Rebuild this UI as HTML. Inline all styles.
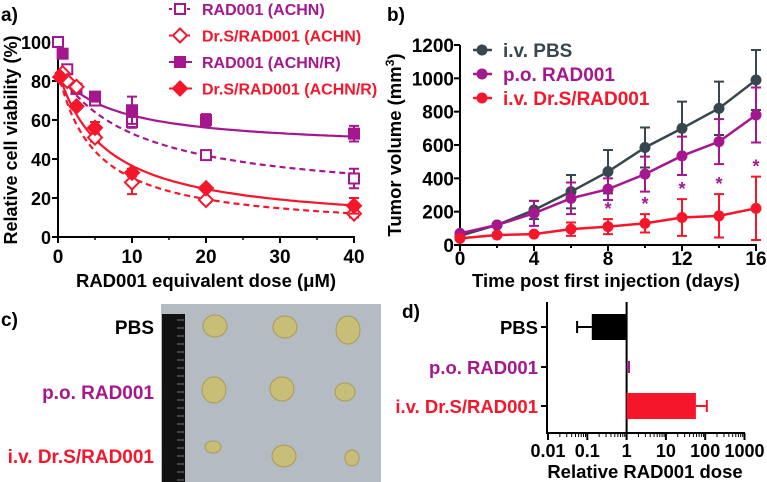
<!DOCTYPE html>
<html><head><meta charset="utf-8"><style>
html,body{margin:0;padding:0;background:#fff}
svg{display:block;font-family:"Liberation Sans",Arial,sans-serif;font-weight:bold}
</style></head><body>
<svg id="fig" width="767" height="482" viewBox="0 0 767 482">
<g id="pa"></g>
<g id="pb"></g>
<g id="pc"></g>
<g id="pd"></g>
</svg>
<script>
// ---------- Panel a data ----------
const aTicksX=[0,10,20,30,40];
const aTicksY=[0,20,40,60,80,100];
const aDoseOpenSq=[0,1.25,2.5,5,10,20,40];
const aValOpenSq=[100,86,76,70,59,42,30];
const aErrOpenSq=[0,2,2,2,3,2,5];
const aDoseFilledSq=[0.625,2.5,5,10,20,40];
const aValFilledSq=[94,76,72,65,60,53];
const aErrFilledSq=[2,2,2,7,3,4];
const aDoseOpenDi=[0.625,1.25,2.5,5,10,20,40];
const aValOpenDi=[84,80,77,51,28,19,12];
const aErrOpenDi=[1,1,1,2,6,1,2];
const aDoseFilledDi=[0.3,2.5,5,10,20,40];
const aValFilledDi=[82,67,56,33,25,16];
const aErrFilledDi=[1,1,3,2,1,4];
// fit params [top,bottom,ic50]
const aFitOpenSq=[85,18,11];
const aFitFilledSq=[84,45,8];
const aFitOpenDi=[85,3,5];
const aFitFilledDi=[85,5,6.5];
// ---------- Panel b data ----------
const bDays=[0,2,4,6,8,10,12,14,16];
const bTicksX=[0,4,8,12,16];
const bTicksY=[0,200,400,600,800,1000,1200];
const bPBS=[55,120,210,320,440,585,700,820,990];
const bPBSerr=[0,0,55,100,130,120,160,160,180];
const bPO=[70,120,190,280,335,425,535,620,780];
const bPOerr=[0,0,75,95,65,105,115,135,165];
const bDrS=[40,60,65,95,110,130,165,175,220];
const bDrSerr=[0,0,0,40,45,55,110,130,190];
const bStarDays=[8,10,12,14,16];
// ---------- Panel d data ----------
const dCats=["PBS","p.o. RAD001","i.v. Dr.S/RAD001"];
const dVals=[0.13,1.0,58];
const dErrLow=[0.055,1.0,58];
const dErrHigh=[0.13,1.15,110];
const dTicks=[0.01,0.1,1,10,100,1000];
const dTickLabels=["0.01","0.1","1","10","100","1000"];

const NS="http://www.w3.org/2000/svg";
function mk(parent,tag,attrs,text){const e=document.createElementNS(NS,tag);for(const k in attrs)e.setAttribute(k,attrs[k]);if(text!==undefined)e.textContent=text;parent.appendChild(e);return e;}
const PUR="#a6168f",RED="#f5162b",GRY="#37474f";
const TF=19, AT=18.5;

// ===== Panel a =====
(function(){
const g=document.getElementById('pa');
const X=v=>58+v*7.4, Y=v=>237-v*1.95;
let t=mk(g,'text',{x:1,y:21,'font-size':19},'a)');

let l=mk(g,'line',{x1:58,y1:Y(0),x2:58,y2:Y(100),stroke:'#000','stroke-width':2});

l=mk(g,'line',{x1:57,y1:237,x2:X(40)+1,y2:237,stroke:'#000','stroke-width':2});

aTicksY.forEach(v=>{let k=mk(g,'line',{x1:52,y1:Y(v),x2:58,y2:Y(v),stroke:'#000','stroke-width':2});

let s=mk(g,'text',{x:51,y:Y(v)+7,'font-size':18,'text-anchor':'end'},String(v));
});
for(let v=5;v<40;v+=10){let k=mk(g,'line',{x1:X(v),y1:237,x2:X(v),y2:240,stroke:'#000','stroke-width':1.5});}
aTicksX.forEach(v=>{let k=mk(g,'line',{x1:X(v),y1:237,x2:X(v),y2:243,stroke:'#000','stroke-width':2});

let s=mk(g,'text',{x:X(v),y:263,'font-size':TF,'text-anchor':'middle'},String(v));
});
t=mk(g,'text',{x:206,y:287,'font-size':AT,'text-anchor':'middle'},'RAD001 equivalent dose (\u03bcM)');

t=mk(g,'text',{x:0,y:0,'font-size':18,'text-anchor':'middle',transform:'translate(17,140) rotate(-90)'},'Relative cell viability (%)');

function fit(p,color,dash,name){let d='';for(let i=0;i<=80;i++){const x=i*0.5;const y=p[1]+(p[0]-p[1])/(1+x/p[2]);d+=(i?'L':'M')+X(x).toFixed(1)+','+Y(y).toFixed(1);}
const e=mk(g,'path',{d:d,fill:'none',stroke:color,'stroke-width':2.2,'stroke-dasharray':dash});
}
fit(aFitOpenSq,PUR,'6,4','fit-rad001-achn');
fit(aFitFilledSq,PUR,'','fit-rad001-achn-r');
fit(aFitOpenDi,RED,'6,4','fit-drs-achn');
fit(aFitFilledDi,RED,'','fit-drs-achn-r');
function marker(cx,cy,shape,filled,color){
 if(shape==='sq') return mk(g,'rect',{x:cx-5,y:cy-5,width:10,height:10,fill:filled?color:'#fff',stroke:color,'stroke-width':2});
 return mk(g,'path',{d:`M${cx},${cy-7}L${cx+7},${cy}L${cx},${cy+7}L${cx-7},${cy}Z`,fill:filled?color:'#fff',stroke:color,'stroke-width':2});}
function series(xs,ys,es,shape,filled,color,name){xs.forEach((x,i)=>{const cx=X(x),cy=Y(ys[i]);
 if(es[i]>0){const eb=mk(g,'path',{d:`M${cx},${Y(ys[i]-es[i])}L${cx},${Y(ys[i]+es[i])}M${cx-5},${Y(ys[i]-es[i])}L${cx+5},${Y(ys[i]-es[i])}M${cx-5},${Y(ys[i]+es[i])}L${cx+5},${Y(ys[i]+es[i])}`,stroke:color,'stroke-width':2,fill:'none'});
 }
 const m=marker(cx,cy,shape,filled,color);
 });}
series(aDoseOpenSq,aValOpenSq,aErrOpenSq,'sq',false,PUR,'rad001-achn');
series(aDoseFilledSq,aValFilledSq,aErrFilledSq,'sq',true,PUR,'rad001-achn-r');
series(aDoseOpenDi,aValOpenDi,aErrOpenDi,'di',false,RED,'drs-achn');
series(aDoseFilledDi,aValFilledDi,aErrFilledDi,'di',true,RED,'drs-achn-r');
const leg=[["RAD001 (ACHN)",'sq',false,PUR,'6,4'],["Dr.S/RAD001 (ACHN)",'di',false,RED,'6,4'],["RAD001 (ACHN/R)",'sq',true,PUR,''],["Dr.S/RAD001 (ACHN/R)",'di',true,RED,'']];
leg.forEach((r,i)=>{const y=9+i*26.5;
 let ln=mk(g,'line',{x1:169,y1:y,x2:192,y2:y,stroke:r[3],'stroke-width':2,'stroke-dasharray':r[4]?'3,3':''});
 
 let m=marker(180,y,r[1],r[2],r[3]);
 let s=mk(g,'text',{x:202,y:y+6,'font-size':16,fill:r[3]},r[0]);
 });
})();

// ===== Panel b =====
(function(){
const g=document.getElementById('pb');
const X=v=>460+v*18.5, Y=v=>245-v/6;
let t=mk(g,'text',{x:387,y:21,'font-size':19},'b)');

let l=mk(g,'line',{x1:460,y1:245,x2:460,y2:Y(1200),stroke:'#000','stroke-width':2});

l=mk(g,'line',{x1:459,y1:245,x2:X(16)+1,y2:245,stroke:'#000','stroke-width':2});

bTicksY.forEach(v=>{let k=mk(g,'line',{x1:454,y1:Y(v),x2:460,y2:Y(v),stroke:'#000','stroke-width':2});

let s=mk(g,'text',{x:454,y:Y(v)+7,'font-size':TF,'text-anchor':'end'},String(v));
});
bDays.forEach(v=>{const big=bTicksX.includes(v);let k=mk(g,'line',{x1:X(v),y1:245,x2:X(v),y2:big?251:248,stroke:'#000','stroke-width':2});
});
bTicksX.forEach(v=>{let s=mk(g,'text',{x:X(v),y:265,'font-size':TF,'text-anchor':'middle'},String(v));
});
t=mk(g,'text',{x:606,y:287,'font-size':AT,'text-anchor':'middle'},'Time post first injection (days)');

t=mk(g,'text',{x:0,y:0,'font-size':AT,'text-anchor':'middle',transform:'translate(401,145) rotate(-90)'});

t.innerHTML='Tumor volume (mm<tspan dy="-7" font-size="12">3</tspan><tspan dy="7">)</tspan>';
function series(vals,errs,color,name){
 vals.forEach((v,i)=>{if(errs[i]>0){const cx=X(bDays[i]);const e=mk(g,'path',{d:`M${cx},${Y(v-errs[i])}L${cx},${Y(v+errs[i])}M${cx-5},${Y(v-errs[i])}L${cx+5},${Y(v-errs[i])}M${cx-5},${Y(v+errs[i])}L${cx+5},${Y(v+errs[i])}`,stroke:color,'stroke-width':2,fill:'none'});
 }});
 const p=mk(g,'polyline',{points:vals.map((v,i)=>X(bDays[i])+','+Y(v)).join(' '),fill:'none',stroke:color,'stroke-width':2.5});
 
 vals.forEach((v,i)=>{const c=mk(g,'circle',{cx:X(bDays[i]),cy:Y(v),r:5.5,fill:color});
 });}
series(bPBS,bPBSerr,GRY,'pbs');
series(bPO,bPOerr,PUR,'po-rad001');
series(bDrS,bDrSerr,RED,'drs-rad001');
bStarDays.forEach(d=>{const i=bDays.indexOf(d);const s=mk(g,'text',{x:X(d),y:Y(bDrS[i]+bDrSerr[i])-4,'font-size':18,'text-anchor':'middle',fill:PUR},'*');
 });
const leg=[["i.v. PBS",GRY],["p.o. RAD001",PUR],["i.v. Dr.S/RAD001",RED]];
leg.forEach((r,i)=>{const y=50+i*24;
 let ln=mk(g,'line',{x1:473,y1:y,x2:492,y2:y,stroke:r[1],'stroke-width':2.5});
 let c=mk(g,'circle',{cx:482,cy:y,r:5.5,fill:r[1]});
 let s=mk(g,'text',{x:503,y:y+7,'font-size':19,fill:r[1]},r[0]);});
})();

// ===== Panel c =====
(function(){
const g=document.getElementById('pc');
let t=mk(g,'text',{x:1,y:326,'font-size':19},'c)');
const labels=[["PBS","#000",334],["p.o. RAD001",PUR,399],["i.v. Dr.S/RAD001",RED,463]];
labels.forEach(r=>{let s=mk(g,'text',{x:154,y:r[2],'font-size':19,'text-anchor':'end',fill:r[1]},r[0]);});
let bg=mk(g,'rect',{x:161,y:304,width:220,height:178,fill:'#b4bbc2'});
let ru=mk(g,'rect',{x:162,y:314,width:23,height:168,fill:'#111'});
for(let y=320;y<482;y+=8){let k=mk(g,'line',{x1:177,y1:y,x2:184,y2:y,stroke:'#777','stroke-width':1});}
const tum=[[215,326,12,11],[285,327,12,11],[348,330,12,14],[214,390,12,13],[282,389,12,12],[345,392,10,9],[213,447,8,6],[284,456,12,11],[352,458,7,8]];
tum.forEach(p=>{let e=mk(g,'ellipse',{cx:p[0],cy:p[1],rx:p[2],ry:p[3],fill:'#c8be78',stroke:'#a89b55','stroke-width':1});});
})();

// ===== Panel d =====
(function(){
const g=document.getElementById('pd');
const X=v=>548+(Math.log10(v)+2)*39.3;
const rowY=[327,367,406];
let t=mk(g,'text',{x:402,y:318,'font-size':19},'d)');
let l=mk(g,'line',{x1:547,y1:302,x2:547,y2:434,stroke:'#000','stroke-width':2});
l=mk(g,'line',{x1:546,y1:433,x2:745,y2:433,stroke:'#000','stroke-width':2});
l=mk(g,'line',{x1:X(1),y1:302,x2:X(1),y2:433,stroke:'#000','stroke-width':2});
for(let d=-2;d<3;d++)for(let m=2;m<10;m++){const x=X(m*Math.pow(10,d));let k=mk(g,'line',{x1:x,y1:433,x2:x,y2:437,stroke:'#000','stroke-width':1});}
dTicks.forEach((v,i)=>{let k=mk(g,'line',{x1:X(v),y1:433,x2:X(v),y2:440,stroke:'#000','stroke-width':2});
 let s=mk(g,'text',{x:X(v),y:457,'font-size':18,'text-anchor':'middle'},dTickLabels[i]);});
t=mk(g,'text',{x:645,y:478,'font-size':AT,'text-anchor':'middle'},'Relative RAD001 dose');
const cols=["#000",PUR,RED];
dCats.forEach((c,i)=>{const y=rowY[i];
 let k=mk(g,'line',{x1:541,y1:y,x2:547,y2:y,stroke:'#000','stroke-width':2});
 let s=mk(g,'text',{x:538,y:y+7,'font-size':18.5,'text-anchor':'end',fill:cols[i]},c);
 const x0=Math.min(X(1),X(dVals[i])),x1=Math.max(X(1),X(dVals[i]));
 if(x1-x0>1){let b=mk(g,'rect',{x:x0,y:y-13,width:x1-x0,height:26,fill:cols[i]});}
 const ex=dVals[i]<1?X(dErrLow[i]):X(dErrHigh[i]);const bx=X(dVals[i]);
 let e=mk(g,'path',{d:`M${bx},${y}L${ex},${y}M${ex},${y-6}L${ex},${y+6}`,stroke:cols[i],'stroke-width':2,fill:'none'});});
})();
</script>
</body></html>
